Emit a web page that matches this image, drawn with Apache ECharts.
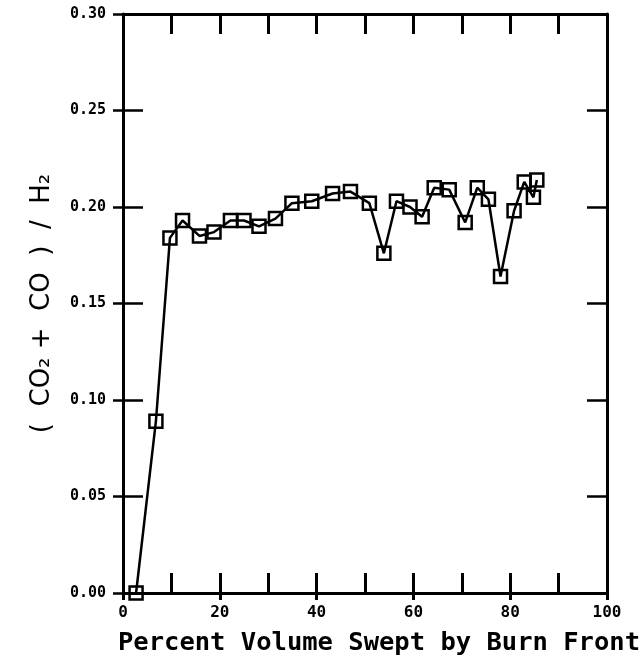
<!DOCTYPE html>
<html><head><meta charset="utf-8">
<script src="https://cdn.jsdelivr.net/npm/echarts@6/dist/echarts.min.js"></script>
<style>html,body{margin:0;padding:0;background:#fff}#c{width:643px;height:665px}</style>
</head><body><div id="c"></div>
<script>
const percentSwept = [2.7, 6.8, 9.7, 12.3, 15.8, 18.8, 22.2, 25.0, 28.1, 31.5, 34.9, 39.0, 43.3, 47.0, 50.9, 53.9, 56.5, 59.3, 61.8, 64.3, 67.4, 70.7, 73.2, 75.5, 78.0, 80.8, 82.9, 84.8, 85.5];
const ratio = [0.000, 0.089, 0.184, 0.193, 0.185, 0.187, 0.193, 0.193, 0.190, 0.194, 0.202, 0.203, 0.207, 0.208, 0.202, 0.176, 0.203, 0.200, 0.195, 0.210, 0.209, 0.192, 0.210, 0.204, 0.164, 0.198, 0.213, 0.205, 0.214];
const xTitle = 'Percent Volume Swept by Burn Front';
const yTitle = '(  CO\u2082 +  CO  )  /  H\u2082';

const chart = echarts.init(document.getElementById('c'));
const ink = '#000';
const gridBox = {left: 123, right: 36, top: 14, bottom: 72, containLabel: false, outerBoundsMode: 'none'};
const tickStyle = {color: ink, width: 3};
const lineOn = {onZero: false, lineStyle: {color: ink, width: 3}};
const lineOff = {show: false, onZero: false};
chart.setOption({
  backgroundColor: '#fff',
  animation: false,
  grid: [Object.assign({}, gridBox), Object.assign({}, gridBox)],
  xAxis: [
    {type: 'value', gridIndex: 0, position: 'bottom', min: 0, max: 100, interval: 10,
      name: xTitle, nameLocation: 'middle', nameGap: 37,
      nameTextStyle: {fontFamily: 'DejaVu Sans Mono', fontWeight: 'bold', fontSize: 25.5, color: ink, padding: [0, 0, 0, 28]},
      axisLine: lineOn,
      axisTick: {inside: true, length: 20, lineStyle: tickStyle},
      splitLine: {show: false},
      axisLabel: {color: ink, fontFamily: 'DejaVu Sans Mono', fontWeight: 'bold', fontSize: 16, margin: 12,
        formatter: v => (v % 20 === 0 ? String(v) : '')}},
    {type: 'value', gridIndex: 0, position: 'top', min: 0, max: 100, interval: 10,
      axisLine: lineOn,
      axisTick: {inside: true, length: 20, lineStyle: tickStyle},
      axisLabel: {show: false}, splitLine: {show: false}},
    {type: 'value', gridIndex: 1, position: 'bottom', min: 0, max: 100, interval: 20,
      axisLine: lineOff,
      axisTick: {inside: false, length: 7, lineStyle: tickStyle},
      axisLabel: {show: false}, splitLine: {show: false}}
  ],
  yAxis: [
    {type: 'value', gridIndex: 0, position: 'left', min: 0, max: 0.30, interval: 0.05,
      name: yTitle, nameLocation: 'middle', nameGap: 68, nameRotate: 90,
      nameTextStyle: {fontFamily: 'DejaVu Sans', fontSize: 26, color: ink},
      axisLine: lineOn,
      axisTick: {inside: true, length: 20, lineStyle: {color: ink, width: 2.5}},
      axisLabel: {color: ink, fontFamily: 'DejaVu Sans Mono', fontWeight: 'bold', fontSize: 15, margin: 17,
        formatter: v => v.toFixed(2)},
      splitLine: {show: false}},
    {type: 'value', gridIndex: 0, position: 'right', min: 0, max: 0.30, interval: 0.05,
      axisLine: lineOn,
      axisTick: {inside: true, length: 20, lineStyle: {color: ink, width: 2.5}},
      axisLabel: {show: false}, splitLine: {show: false}},
    {type: 'value', gridIndex: 1, position: 'left', min: 0, max: 0.30, interval: 0.05,
      axisLine: lineOff,
      axisTick: {inside: false, length: 10, lineStyle: {color: ink, width: 2.5}},
      axisLabel: {show: false}, splitLine: {show: false}}
  ],
  series: [{
    type: 'line',
    xAxisIndex: 0, yAxisIndex: 0,
    data: percentSwept.map((x, i) => [x, ratio[i]]),
    symbol: 'rect', symbolSize: 13,
    lineStyle: {color: ink, width: 2.5},
    itemStyle: {color: 'rgba(0,0,0,0)', borderColor: ink, borderWidth: 2.5}
  }]
});
</script></body></html>
